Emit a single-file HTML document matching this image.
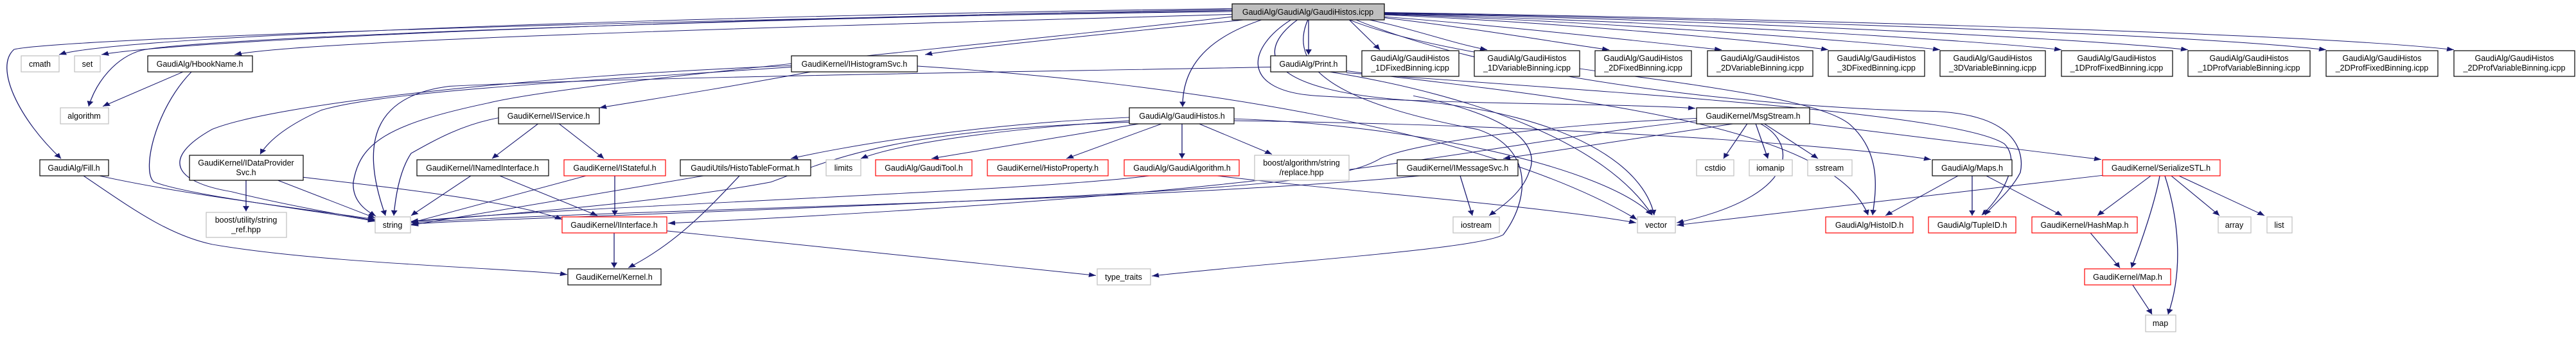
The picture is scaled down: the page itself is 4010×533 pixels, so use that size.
<!DOCTYPE html>
<html><head><meta charset="utf-8"><style>
html,body{margin:0;padding:0;background:#fff;width:4010px;height:533px;overflow:hidden}
svg text{font-family:"Liberation Sans",sans-serif;font-size:12.5px;fill:#000}
.e{fill:none;stroke:#191970;stroke-width:1.3}
.b{fill:#fff;stroke:#000;stroke-width:1.2}
.r{fill:#fff;stroke:#ff0000;stroke-width:1.2}
.g{fill:#fff;stroke:#bfbfbf;stroke-width:1.2}
</style></head><body>
<svg width="4010" height="533" viewBox="0 0 4010 533" xmlns="http://www.w3.org/2000/svg">
<defs><marker id="a" markerUnits="userSpaceOnUse" markerWidth="12" markerHeight="12" refX="11" refY="5" orient="auto"><path d="M0,0 L11,5 L0,10 z" fill="#191970"/></marker></defs>
<g transform="scale(1,0.7467)">
<g class="e" marker-end="url(#a)">
<path d="M1918,18 C1200,30 200,70 92,114"/>
<path d="M1918,20 C1200,35 300,80 158,114"/>
<path d="M1918,22 C1100,40 300,80 220,105 C180,120 150,170 138,222"/>
<path d="M1918,24 C1000,40 100,80 22,103 C-10,140 30,250 95,331"/>
<path d="M1918,30 C1400,50 500,80 365,114"/>
<path d="M1940,41 C1800,60 1500,100 1440,114"/>
<path d="M1965,41 C1900,70 1840,120 1841,223"/>
<path d="M2037,41 L2037,114"/>
<path d="M2100,41 L2148,104"/>
<path d="M2130,41 C2200,60 2260,90 2315,104"/>
<path d="M2155,37 C2300,60 2430,90 2505,104"/>
<path d="M2155,35 C2350,55 2580,90 2680,104"/>
<path d="M2155,31 C2400,45 2750,85 2846,104"/>
<path d="M2155,30 C2450,42 2900,85 3020,104"/>
<path d="M2155,29 C2500,40 3050,80 3209,104"/>
<path d="M2155,28 C2600,38 3250,80 3406,104"/>
<path d="M2155,27 C2700,40 3400,70 3621,104"/>
<path d="M2155,26 C2800,40 3600,70 3820,104"/>
<path d="M2010,41 C1940,100 1930,190 2050,200 C2300,220 2500,215 2639,226"/>
<path d="M2020,41 C1950,110 1970,190 2200,210 C2450,240 2560,350 2575,449"/>
<path d="M2100,41 C2300,150 2800,170 2880,260 C2930,320 2920,400 2915,449"/>
<path d="M2110,41 C2400,200 2900,230 3000,232 C3150,235 3150,330 3145,360 C3130,400 3100,430 3090,449"/>
<path d="M2036,41 C2000,150 2100,220 2300,270 C2390,310 2380,420 2340,490 C2300,520 2000,545 1793,576"/>
<path d="M1918,35 C1500,100 900,170 760,215 C600,260 560,300 550,380 C548,420 570,440 585,451"/>
<path d="M1232,137 C800,160 420,220 330,270 C250,330 270,380 360,400 C450,430 560,455 584,460"/>
<path d="M1232,140 C900,170 600,190 500,230 C450,260 420,290 405,322"/>
<path d="M1262,150 C1100,190 1000,210 933,225"/>
<path d="M1428,138 C1800,170 2300,260 2548,458"/>
<path d="M285,150 L160,222"/>
<path d="M298,150 C240,230 220,360 240,380 C300,410 500,440 584,462"/>
<path d="M155,367 C300,410 500,440 584,458"/>
<path d="M130,367 C200,430 260,490 330,510 C500,550 800,560 883,573"/>
<path d="M383,376 L383,441"/>
<path d="M432,376 L584,455"/>
<path d="M472,370 C600,390 800,420 875,458"/>
<path d="M838,258 L766,331"/>
<path d="M870,258 L940,331"/>
<path d="M776,246 C720,260 680,290 640,320 C620,360 615,420 613,450"/>
<path d="M778,367 L930,450"/>
<path d="M733,367 L640,450"/>
<path d="M912,367 L640,465"/>
<path d="M957,367 L957,450"/>
<path d="M1095,367 L640,470"/>
<path d="M1151,367 C1100,440 1050,510 978,559"/>
<path d="M956,486 L956,559"/>
<path d="M1038,482 L1706,575"/>
<path d="M1775,258 L1450,331"/>
<path d="M1809,258 L1660,331"/>
<path d="M1840,258 L1840,331"/>
<path d="M1866,258 L1980,322"/>
<path d="M1758,245 C1500,260 1300,310 1231,331"/>
<path d="M1758,252 C1550,270 1400,300 1340,331"/>
<path d="M1758,255 C1400,270 1300,330 1200,380 C1000,430 700,455 640,463"/>
<path d="M1921,248 C2200,260 2500,350 2572,449"/>
<path d="M1921,252 C2400,260 2850,300 3006,333"/>
<path d="M1789,367 C1600,400 900,430 640,462"/>
<path d="M1895,367 C2100,400 2400,430 2547,465"/>
<path d="M2700,258 L2340,331"/>
<path d="M2720,258 L2683,331"/>
<path d="M2733,258 L2752,331"/>
<path d="M2746,258 L2830,331"/>
<path d="M2740,258 C2800,300 2800,410 2610,465"/>
<path d="M2817,258 L3271,333"/>
<path d="M2641,247 C2400,260 2200,300 2150,330 C2100,370 2000,390 1500,420 C1000,450 700,460 640,468"/>
<path d="M2641,252 C2300,300 2100,400 1040,466"/>
<path d="M2200,200 C2350,240 2400,300 2380,360 C2370,400 2340,430 2318,450"/>
<path d="M2273,367 L2292,450"/>
<path d="M2210,367 C1800,420 900,440 640,465"/>
<path d="M3048,367 L2935,450"/>
<path d="M3070,367 L3070,450"/>
<path d="M3092,367 L3210,450"/>
<path d="M3348,367 L3265,450"/>
<path d="M3362,367 C3355,420 3335,500 3318,559"/>
<path d="M3370,367 C3390,450 3400,560 3375,656"/>
<path d="M3380,367 L3455,450"/>
<path d="M3392,367 L3525,450"/>
<path d="M3273,366 L2610,470"/>
<path d="M3254,486 L3300,559"/>
<path d="M3320,595 L3350,656"/>
<path d="M2070,150 C2300,200 2500,300 2572,449"/>
<path d="M2096,148 C2400,200 2850,250 2908,449"/>
<path d="M2096,152 C2600,200 3050,240 3120,300 C3150,340 3110,420 3085,449"/>
<path d="M1978,140 C1600,150 1000,160 700,180 C580,200 560,300 600,450"/>
</g>
</g>
<g>
<rect x="1918" y="6" width="237" height="25" fill="#bfbfbf" stroke="#000" stroke-width="1.2"/>
<text x="2036" y="23" text-anchor="middle">GaudiAlg/GaudiAlg/GaudiHistos.icpp</text>
<rect class="g" x="33" y="87" width="59" height="25"/><text x="62" y="104" text-anchor="middle">cmath</text>
<rect class="g" x="116" y="87" width="40" height="25"/><text x="136" y="104" text-anchor="middle">set</text>
<rect class="b" x="230" y="87" width="163" height="25"/><text x="311" y="104" text-anchor="middle">GaudiAlg/HbookName.h</text>
<rect class="b" x="1232" y="87" width="196" height="25"/><text x="1330" y="104" text-anchor="middle">GaudiKernel/IHistogramSvc.h</text>
<rect class="b" x="1978" y="87" width="118" height="25"/><text x="2037" y="104" text-anchor="middle">GaudiAlg/Print.h</text>
<rect class="b" x="2120" y="79" width="151" height="40"/><text x="2195" y="95" text-anchor="middle">GaudiAlg/GaudiHistos</text><text x="2195" y="110" text-anchor="middle">_1DFixedBinning.icpp</text>
<rect class="b" x="2295" y="79" width="164" height="40"/><text x="2377" y="95" text-anchor="middle">GaudiAlg/GaudiHistos</text><text x="2377" y="110" text-anchor="middle">_1DVariableBinning.icpp</text>
<rect class="b" x="2483" y="79" width="150" height="40"/><text x="2558" y="95" text-anchor="middle">GaudiAlg/GaudiHistos</text><text x="2558" y="110" text-anchor="middle">_2DFixedBinning.icpp</text>
<rect class="b" x="2658" y="79" width="164" height="40"/><text x="2740" y="95" text-anchor="middle">GaudiAlg/GaudiHistos</text><text x="2740" y="110" text-anchor="middle">_2DVariableBinning.icpp</text>
<rect class="b" x="2846" y="79" width="150" height="40"/><text x="2921" y="95" text-anchor="middle">GaudiAlg/GaudiHistos</text><text x="2921" y="110" text-anchor="middle">_3DFixedBinning.icpp</text>
<rect class="b" x="3020" y="79" width="164" height="40"/><text x="3102" y="95" text-anchor="middle">GaudiAlg/GaudiHistos</text><text x="3102" y="110" text-anchor="middle">_3DVariableBinning.icpp</text>
<rect class="b" x="3209" y="79" width="173" height="40"/><text x="3295" y="95" text-anchor="middle">GaudiAlg/GaudiHistos</text><text x="3295" y="110" text-anchor="middle">_1DProfFixedBinning.icpp</text>
<rect class="b" x="3406" y="79" width="190" height="40"/><text x="3501" y="95" text-anchor="middle">GaudiAlg/GaudiHistos</text><text x="3501" y="110" text-anchor="middle">_1DProfVariableBinning.icpp</text>
<rect class="b" x="3621" y="79" width="174" height="40"/><text x="3708" y="95" text-anchor="middle">GaudiAlg/GaudiHistos</text><text x="3708" y="110" text-anchor="middle">_2DProfFixedBinning.icpp</text>
<rect class="b" x="3820" y="79" width="188" height="40"/><text x="3914" y="95" text-anchor="middle">GaudiAlg/GaudiHistos</text><text x="3914" y="110" text-anchor="middle">_2DProfVariableBinning.icpp</text>
<rect class="g" x="94" y="168" width="75" height="25"/><text x="131" y="185" text-anchor="middle">algorithm</text>
<rect class="b" x="776" y="168" width="157" height="25"/><text x="854" y="185" text-anchor="middle">GaudiKernel/IService.h</text>
<rect class="b" x="1758" y="168" width="163" height="25"/><text x="1840" y="185" text-anchor="middle">GaudiAlg/GaudiHistos.h</text>
<rect class="b" x="2641" y="168" width="176" height="25"/><text x="2729" y="185" text-anchor="middle">GaudiKernel/MsgStream.h</text>
<rect class="b" x="62" y="249" width="107" height="25"/><text x="115" y="266" text-anchor="middle">GaudiAlg/Fill.h</text>
<rect class="b" x="295" y="242" width="177" height="39"/><text x="383" y="258" text-anchor="middle">GaudiKernel/IDataProvider</text><text x="383" y="273" text-anchor="middle">Svc.h</text>
<rect class="b" x="649" y="249" width="205" height="25"/><text x="751" y="266" text-anchor="middle">GaudiKernel/INamedInterface.h</text>
<rect class="r" x="878" y="249" width="158" height="25"/><text x="957" y="266" text-anchor="middle">GaudiKernel/IStateful.h</text>
<rect class="b" x="1059" y="249" width="203" height="25"/><text x="1160" y="266" text-anchor="middle">GaudiUtils/HistoTableFormat.h</text>
<rect class="g" x="1286" y="249" width="54" height="25"/><text x="1313" y="266" text-anchor="middle">limits</text>
<rect class="r" x="1363" y="249" width="150" height="25"/><text x="1438" y="266" text-anchor="middle">GaudiAlg/GaudiTool.h</text>
<rect class="r" x="1537" y="249" width="188" height="25"/><text x="1631" y="266" text-anchor="middle">GaudiKernel/HistoProperty.h</text>
<rect class="r" x="1750" y="249" width="179" height="25"/><text x="1840" y="266" text-anchor="middle">GaudiAlg/GaudiAlgorithm.h</text>
<rect class="g" x="1953" y="242" width="147" height="39"/><text x="2026" y="258" text-anchor="middle">boost/algorithm/string</text><text x="2026" y="273" text-anchor="middle">/replace.hpp</text>
<rect class="b" x="2175" y="249" width="188" height="25"/><text x="2269" y="266" text-anchor="middle">GaudiKernel/IMessageSvc.h</text>
<rect class="g" x="2641" y="249" width="58" height="25"/><text x="2670" y="266" text-anchor="middle">cstdio</text>
<rect class="g" x="2723" y="249" width="67" height="25"/><text x="2756" y="266" text-anchor="middle">iomanip</text>
<rect class="g" x="2814" y="249" width="69" height="25"/><text x="2848" y="266" text-anchor="middle">sstream</text>
<rect class="b" x="3008" y="249" width="124" height="25"/><text x="3070" y="266" text-anchor="middle">GaudiAlg/Maps.h</text>
<rect class="r" x="3273" y="249" width="183" height="25"/><text x="3364" y="266" text-anchor="middle">GaudiKernel/SerializeSTL.h</text>
<rect class="g" x="321" y="331" width="125" height="39"/><text x="383" y="347" text-anchor="middle">boost/utility/string</text><text x="383" y="362" text-anchor="middle">_ref.hpp</text>
<rect class="g" x="584" y="338" width="55" height="25"/><text x="611" y="355" text-anchor="middle">string</text>
<rect class="r" x="875" y="338" width="163" height="25"/><text x="956" y="355" text-anchor="middle">GaudiKernel/IInterface.h</text>
<rect class="g" x="2262" y="338" width="72" height="25"/><text x="2298" y="355" text-anchor="middle">iostream</text>
<rect class="g" x="2549" y="338" width="59" height="25"/><text x="2578" y="355" text-anchor="middle">vector</text>
<rect class="r" x="2842" y="338" width="136" height="25"/><text x="2910" y="355" text-anchor="middle">GaudiAlg/HistoID.h</text>
<rect class="r" x="3002" y="338" width="136" height="25"/><text x="3070" y="355" text-anchor="middle">GaudiAlg/TupleID.h</text>
<rect class="r" x="3163" y="338" width="164" height="25"/><text x="3245" y="355" text-anchor="middle">GaudiKernel/HashMap.h</text>
<rect class="g" x="3453" y="338" width="51" height="25"/><text x="3478" y="355" text-anchor="middle">array</text>
<rect class="g" x="3529" y="338" width="39" height="25"/><text x="3548" y="355" text-anchor="middle">list</text>
<rect class="b" x="884" y="419" width="145" height="25"/><text x="956" y="436" text-anchor="middle">GaudiKernel/Kernel.h</text>
<rect class="g" x="1708" y="419" width="83" height="25"/><text x="1749" y="436" text-anchor="middle">type_traits</text>
<rect class="r" x="3245" y="419" width="134" height="25"/><text x="3312" y="436" text-anchor="middle">GaudiKernel/Map.h</text>
<rect class="g" x="3340" y="491" width="47" height="26"/><text x="3363" y="508" text-anchor="middle">map</text>
</g>
</svg>
</body></html>
